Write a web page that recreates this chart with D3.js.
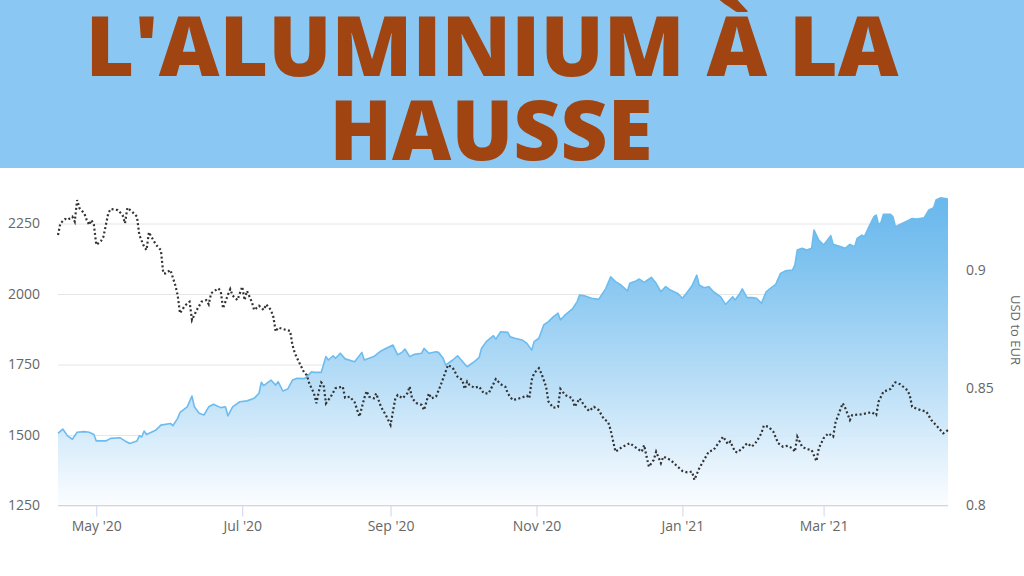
<!DOCTYPE html>
<html><head><meta charset="utf-8">
<script src="https://cdn.jsdelivr.net/npm/d3@7"></script>
<style>html,body{margin:0;padding:0;background:#fff;}svg{display:block;}</style>
</head><body>
<svg id="chart" width="1024" height="576"></svg>
<script>
// ---- data ----
const startDate = "2020-04-15";
const endDate = "2021-04-22";
const titleLines = ["L'ALUMINIUM À LA", "HAUSSE"];
const leftTicks = [1250, 1500, 1750, 2000, 2250];
const rightTicks = [0.8, 0.85, 0.9];
const monthTicks = ["2020-05-01", "2020-07-01", "2020-09-01", "2020-11-01", "2021-01-01", "2021-03-01"];
const rightAxisTitle = "USD to EUR";

// Aluminium price (USD/t): days after startDate, and value
const alDays = [0,2,4,6,8,11,13,15,16,20,22,26,28,30,33,34,35,36,37,41,43,47,48,50,51,54,56,57,59,61,63,65,68,70,71,73,76,79,82,84,85,86,89,91,92,94,96,98,100,103,104,106,107,110,112,113,115,116,118,120,124,127,128,130,132,135,137,140,142,144,145,147,149,152,153,155,158,159,161,162,165,167,171,174,176,177,179,182,183,185,188,189,191,194,196,198,199,201,203,205,207,209,210,212,215,217,218,220,223,226,229,231,233,235,238,239,241,243,245,246,248,250,252,254,256,259,261,263,265,267,268,270,272,274,277,279,282,283,285,286,288,290,292,294,296,298,300,302,304,307,308,309,311,313,315,316,318,320,323,324,327,329,331,333,334,336,337,339,341,342,343,344,345,348,349,350,353,355,357,359,362,364,366,367,369,372];
const alValues = [1506,1521,1497,1485,1510,1512,1510,1502,1479,1479,1488,1490,1479,1470,1479,1497,1493,1514,1502,1518,1535,1541,1533,1559,1580,1600,1638,1600,1577,1571,1600,1609,1597,1600,1568,1600,1618,1621,1630,1648,1687,1675,1695,1677,1689,1656,1663,1695,1701,1700,1707,1724,1722,1722,1778,1766,1781,1772,1790,1770,1760,1793,1766,1772,1778,1798,1807,1819,1784,1795,1805,1778,1786,1790,1807,1790,1795,1793,1772,1748,1766,1781,1742,1760,1774,1807,1831,1852,1840,1866,1864,1848,1843,1837,1825,1801,1831,1843,1890,1902,1919,1932,1908,1926,1947,1973,1996,1994,1985,1981,2020,2061,2044,2034,2011,2038,2044,2053,2041,2047,2059,2038,2008,2026,2014,2002,1985,2006,2029,2067,2032,2022,2026,2008,1990,1963,1990,1979,2002,2018,1987,1987,1985,1967,2008,2022,2034,2073,2082,2085,2103,2156,2162,2156,2162,2227,2191,2174,2207,2176,2168,2162,2176,2168,2197,2209,2203,2239,2274,2280,2245,2254,2283,2283,2274,2239,2251,2259,2268,2266,2270,2298,2306,2333,2341,2337];

// USD to EUR rate: days after startDate, and value
const fxDays = [0,1,3,4,6,7,8,9,11,12,13,14,15,16,18,19,21,22,25,27,28,29,31,33,34,36,37,38,39,41,43,44,45,47,49,50,51,53,55,56,58,60,62,63,64,67,68,69,71,72,73,75,77,78,79,81,82,84,86,87,89,90,91,92,94,97,98,99,100,103,104,105,107,108,109,110,111,112,114,116,119,120,122,124,126,128,129,130,132,133,135,137,139,141,142,144,146,147,148,150,152,153,155,156,158,160,162,163,165,167,169,170,171,172,174,176,178,180,183,185,187,188,190,192,196,197,198,199,201,202,204,205,207,209,210,212,215,216,218,220,222,224,226,228,230,231,233,234,236,239,242,244,245,246,247,249,250,252,253,256,259,261,263,265,266,268,270,272,274,276,278,280,281,283,284,286,288,290,292,294,295,297,299,301,303,305,307,308,309,311,313,315,317,318,320,322,324,325,328,329,331,332,336,340,342,343,345,348,350,352,355,356,357,359,363,365,368,370,372];
const fxValues = [0.9151,0.9201,0.9219,0.9215,0.9229,0.9208,0.9300,0.9265,0.9243,0.9215,0.9194,0.9215,0.9194,0.9109,0.9126,0.9144,0.9243,0.9262,0.9257,0.9236,0.9201,0.9267,0.9250,0.9229,0.9151,0.9101,0.9087,0.9163,0.9144,0.9109,0.9087,0.8988,0.8988,0.9002,0.8938,0.8896,0.8818,0.8850,0.8867,0.8789,0.8832,0.8867,0.8874,0.8856,0.8903,0.8924,0.8913,0.8839,0.8896,0.8921,0.8893,0.8874,0.8931,0.8874,0.8913,0.8867,0.8832,0.8850,0.8832,0.8856,0.8832,0.8803,0.8740,0.8757,0.8751,0.8743,0.8683,0.8648,0.8626,0.8563,0.8555,0.8520,0.8477,0.8435,0.8484,0.8524,0.8513,0.8435,0.8463,0.8499,0.8506,0.8459,0.8463,0.8439,0.8378,0.8456,0.8487,0.8463,0.8456,0.8477,0.8420,0.8385,0.8343,0.8456,0.8470,0.8456,0.8477,0.8506,0.8456,0.8435,0.8428,0.8406,0.8477,0.8456,0.8463,0.8513,0.8569,0.8598,0.8586,0.8548,0.8534,0.8496,0.8527,0.8513,0.8501,0.8506,0.8477,0.8477,0.8538,0.8516,0.8505,0.8477,0.8449,0.8453,0.8467,0.8456,0.8534,0.8563,0.8584,0.8563,0.8506,0.8442,0.8416,0.8420,0.8496,0.8470,0.8456,0.8420,0.8456,0.8425,0.8402,0.8420,0.8406,0.8371,0.8354,0.8321,0.8229,0.8236,0.8250,0.8265,0.8243,0.8229,0.8257,0.8208,0.8165,0.8194,0.8229,0.8180,0.8208,0.8194,0.8165,0.8147,0.8141,0.8144,0.8109,0.8158,0.8194,0.8229,0.8236,0.8265,0.8293,0.8261,0.8272,0.8229,0.8226,0.8243,0.8265,0.8250,0.8272,0.8307,0.8340,0.8335,0.8314,0.8265,0.8250,0.8254,0.8243,0.8229,0.8293,0.8250,0.8240,0.8236,0.8189,0.8243,0.8286,0.8307,0.8293,0.8354,0.8435,0.8416,0.8364,0.8385,0.8388,0.8397,0.8385,0.8442,0.8484,0.8496,0.8524,0.8516,0.8491,0.8470,0.8420,0.8411,0.8399,0.8364,0.8331,0.8307,0.8321];

// ---- drawing ----
const svg = d3.select("#chart");
const W = 1024, H = 576;
const plot = {left: 58, right: 948, top: 153, bottom: 505.5};
const parse = d3.utcParse("%Y-%m-%d");
const t0 = parse(startDate);
const toDate = n => d3.utcDay.offset(t0, n);

const x = d3.scaleUtc().domain([t0, parse(endDate)]).range([plot.left, plot.right]);
const yL = d3.scaleLinear().domain([1250, 2500]).range([plot.bottom, plot.top]);
const yR = d3.scaleLinear().domain([0.8, 0.95]).range([plot.bottom, plot.top]);

const al = alDays.map((d, i) => ({date: toDate(d), v: alValues[i]}));
const fx = fxDays.map((d, i) => ({date: toDate(d), v: fxValues[i]}));

const defs = svg.append("defs");
const grad = defs.append("linearGradient").attr("id", "alGrad")
  .attr("gradientUnits", "userSpaceOnUse")
  .attr("x1", 0).attr("x2", 0).attr("y1", plot.top).attr("y2", plot.bottom);
[[0, "#4aa8e8"], [0.3, "#73bdee"], [0.65, "#b3dbf6"], [1, "#fbfdff"]].forEach(([o, c]) =>
  grad.append("stop").attr("offset", o).attr("stop-color", c));

// gridlines + left axis
const yAxisL = d3.axisLeft(yL).tickValues(leftTicks).tickFormat(d3.format("d"))
  .tickSize(-(plot.right - plot.left)).tickPadding(18);
const gL = svg.append("g").attr("transform", `translate(${plot.left},0)`).call(yAxisL);
gL.select(".domain").remove();
gL.selectAll(".tick line").attr("stroke", "#e6e6e6").attr("stroke-width", 1);
gL.selectAll(".tick text").attr("fill", "#666").attr("font-family", "'Open Sans', sans-serif").attr("font-size", 14);

// area
const area = d3.area().x(d => x(d.date)).y0(plot.bottom).y1(d => yL(d.v));
svg.append("path").datum(al).attr("d", area).attr("fill", "url(#alGrad)").attr("fill-opacity", 0.92);
const lineL = d3.line().x(d => x(d.date)).y(d => yL(d.v));
svg.append("path").datum(al).attr("d", lineL).attr("fill", "none")
  .attr("stroke", "#6cbcef").attr("stroke-width", 1.6).attr("stroke-linejoin", "round");

// x axis
const xAxis = d3.axisBottom(x).tickValues(monthTicks.map(parse))
  .tickFormat(d3.utcFormat("%b '%y")).tickSize(11).tickPadding(5);
const gX = svg.append("g").attr("transform", `translate(0,${plot.bottom})`).call(xAxis);
gX.select(".domain").attr("stroke", "#ccd6eb").attr("d", `M${plot.left},0H${plot.right}`);
gX.selectAll(".tick line").attr("stroke", "#ccd6eb");
gX.selectAll(".tick text").attr("fill", "#666").attr("font-family", "'Open Sans', sans-serif").attr("font-size", 14);

// right axis
const yAxisR = d3.axisRight(yR).tickValues(rightTicks).tickSize(0).tickPadding(18).tickFormat(d3.format("~g"));
const gR = svg.append("g").attr("transform", `translate(${plot.right},0)`).call(yAxisR);
gR.select(".domain").remove();
gR.selectAll(".tick text").attr("fill", "#666").attr("font-family", "'Open Sans', sans-serif").attr("font-size", 14);
svg.append("text").attr("transform", "translate(1011,330) rotate(90)")
  .attr("text-anchor", "middle").attr("fill", "#666")
  .attr("font-family", "'Open Sans', sans-serif").attr("font-size", 13).text(rightAxisTitle);

// fx dotted line
const lineR = d3.line().x(d => x(d.date)).y(d => yR(d.v));
svg.append("path").datum(fx).attr("d", lineR).attr("fill", "none")
  .attr("stroke", "#333").attr("stroke-width", 2.2).attr("stroke-dasharray", "2,2.4");

// banner
svg.append("rect").attr("x", 0).attr("y", 0).attr("width", W).attr("height", 168).attr("fill", "#8bc7f3");
const titleSpecs = [{y: 76, len: 813, cx: 492}, {y: 160, len: 323, cx: 491}];
titleLines.forEach((t, i) => {
  svg.append("text").attr("x", titleSpecs[i].cx).attr("y", titleSpecs[i].y)
    .attr("text-anchor", "middle").attr("fill", "#a04512")
    .attr("font-family", "'Open Sans', sans-serif").attr("font-weight", 800)
    .attr("font-size", 84).attr("textLength", titleSpecs[i].len).attr("lengthAdjust", "spacingAndGlyphs")
    .text(t);
});
</script>
</body></html>
